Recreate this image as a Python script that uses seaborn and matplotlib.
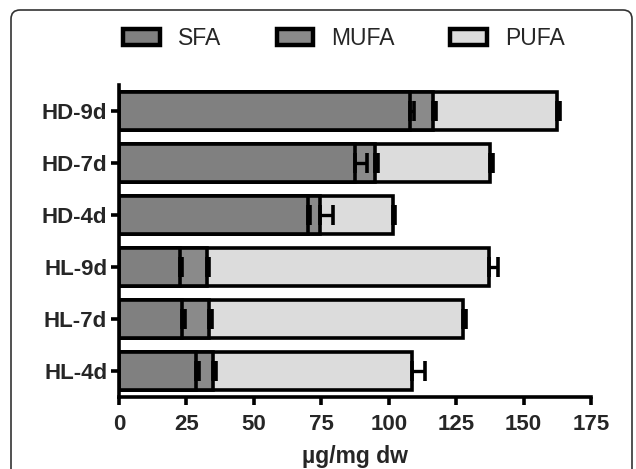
import matplotlib
matplotlib.use("Agg")
import matplotlib.pyplot as plt
import seaborn as sns
import numpy as np
import pandas as pd
from matplotlib.patches import Patch, FancyBboxPatch

sns.set_style("white")
plt.rcParams['font.family'] = ['Liberation Sans', 'DejaVu Sans']

categories = ["HD-9d", "HD-7d", "HD-4d", "HL-9d", "HL-7d", "HL-4d"]
sfa = [108.0, 87.5, 70.0, 22.5, 23.5, 28.5]
mufa = [8.5, 7.5, 4.5, 10.0, 10.0, 6.5]
pufa = [46.0, 42.5, 27.0, 104.5, 94.0, 73.5]
sfa_err = [1.5, 4.5, 1.0, 1.0, 1.0, 1.0]
mufa_err = [1.0, 1.0, 5.0, 0.8, 0.8, 0.8]
pufa_err = [1.0, 1.0, 0.8, 3.5, 1.3, 4.8]

labels = ["SFA", "MUFA", "PUFA"]
colors = ["#808080", "#8a8a8a", "#dcdcdc"]

c1 = np.array(sfa)
c2 = c1 + np.array(mufa)
c3 = c2 + np.array(pufa)
df = pd.DataFrame({"cat": categories, "c1": c1, "c2": c2, "c3": c3})

fig = plt.figure(figsize=(6.36, 4.69), dpi=100)
ax = fig.add_axes([119/636, 72/469, 472/636, 312/469])

lw = 2.6
for col, color in zip(["c3", "c2", "c1"], colors[::-1]):
    sns.barplot(data=df, y="cat", x=col, color=color, orient="h", width=0.73,
                edgecolor="black", linewidth=lw, saturation=1, ax=ax, errorbar=None)

ypos = np.arange(len(categories))
for ends, err in [(c1, sfa_err), (c2, mufa_err), (c3, pufa_err)]:
    ax.errorbar(ends, ypos, xerr=[np.zeros(len(err)), err], fmt="none",
                ecolor="black", elinewidth=2.4, capsize=7, capthick=2.6, zorder=5)

ax.set_xlim(0, 175)
ax.set_ylim(5.5, -0.5)
ax.set_xticks(np.arange(0, 176, 25))
ax.set_xlabel("µg/mg dw", fontsize=16.5, fontweight="bold", labelpad=7)
ax.set_ylabel("")
for s in ["top", "right"]:
    ax.spines[s].set_visible(False)
for s in ["left", "bottom"]:
    ax.spines[s].set_linewidth(2.6)
    ax.spines[s].set_color("black")
ax.tick_params(axis="both", which="major", length=5.5, width=2.6, color="black",
               labelsize=16, left=True, bottom=True)
ax.tick_params(axis="x", pad=7)
ax.tick_params(axis="y", pad=3)
for t in ax.get_xticklabels() + ax.get_yticklabels():
    t.set_fontweight("bold")

handles = [Patch(facecolor=c, edgecolor="black", linewidth=3.2) for c in colors]
fig.legend(handles, labels, loc="center", bbox_to_anchor=(0.541, 0.917), ncol=3,
           frameon=False, fontsize=16.5, handlelength=1.6, handleheight=0.7,
           handletextpad=0.8, columnspacing=2.4)

border = FancyBboxPatch((11, -30), 621, 469 - 10 + 30,
                        boxstyle="round,pad=0,rounding_size=9",
                        transform=None, fill=False, edgecolor="#333333", linewidth=1.2)
fig.add_artist(border)

fig.savefig("out.png", dpi=100)
